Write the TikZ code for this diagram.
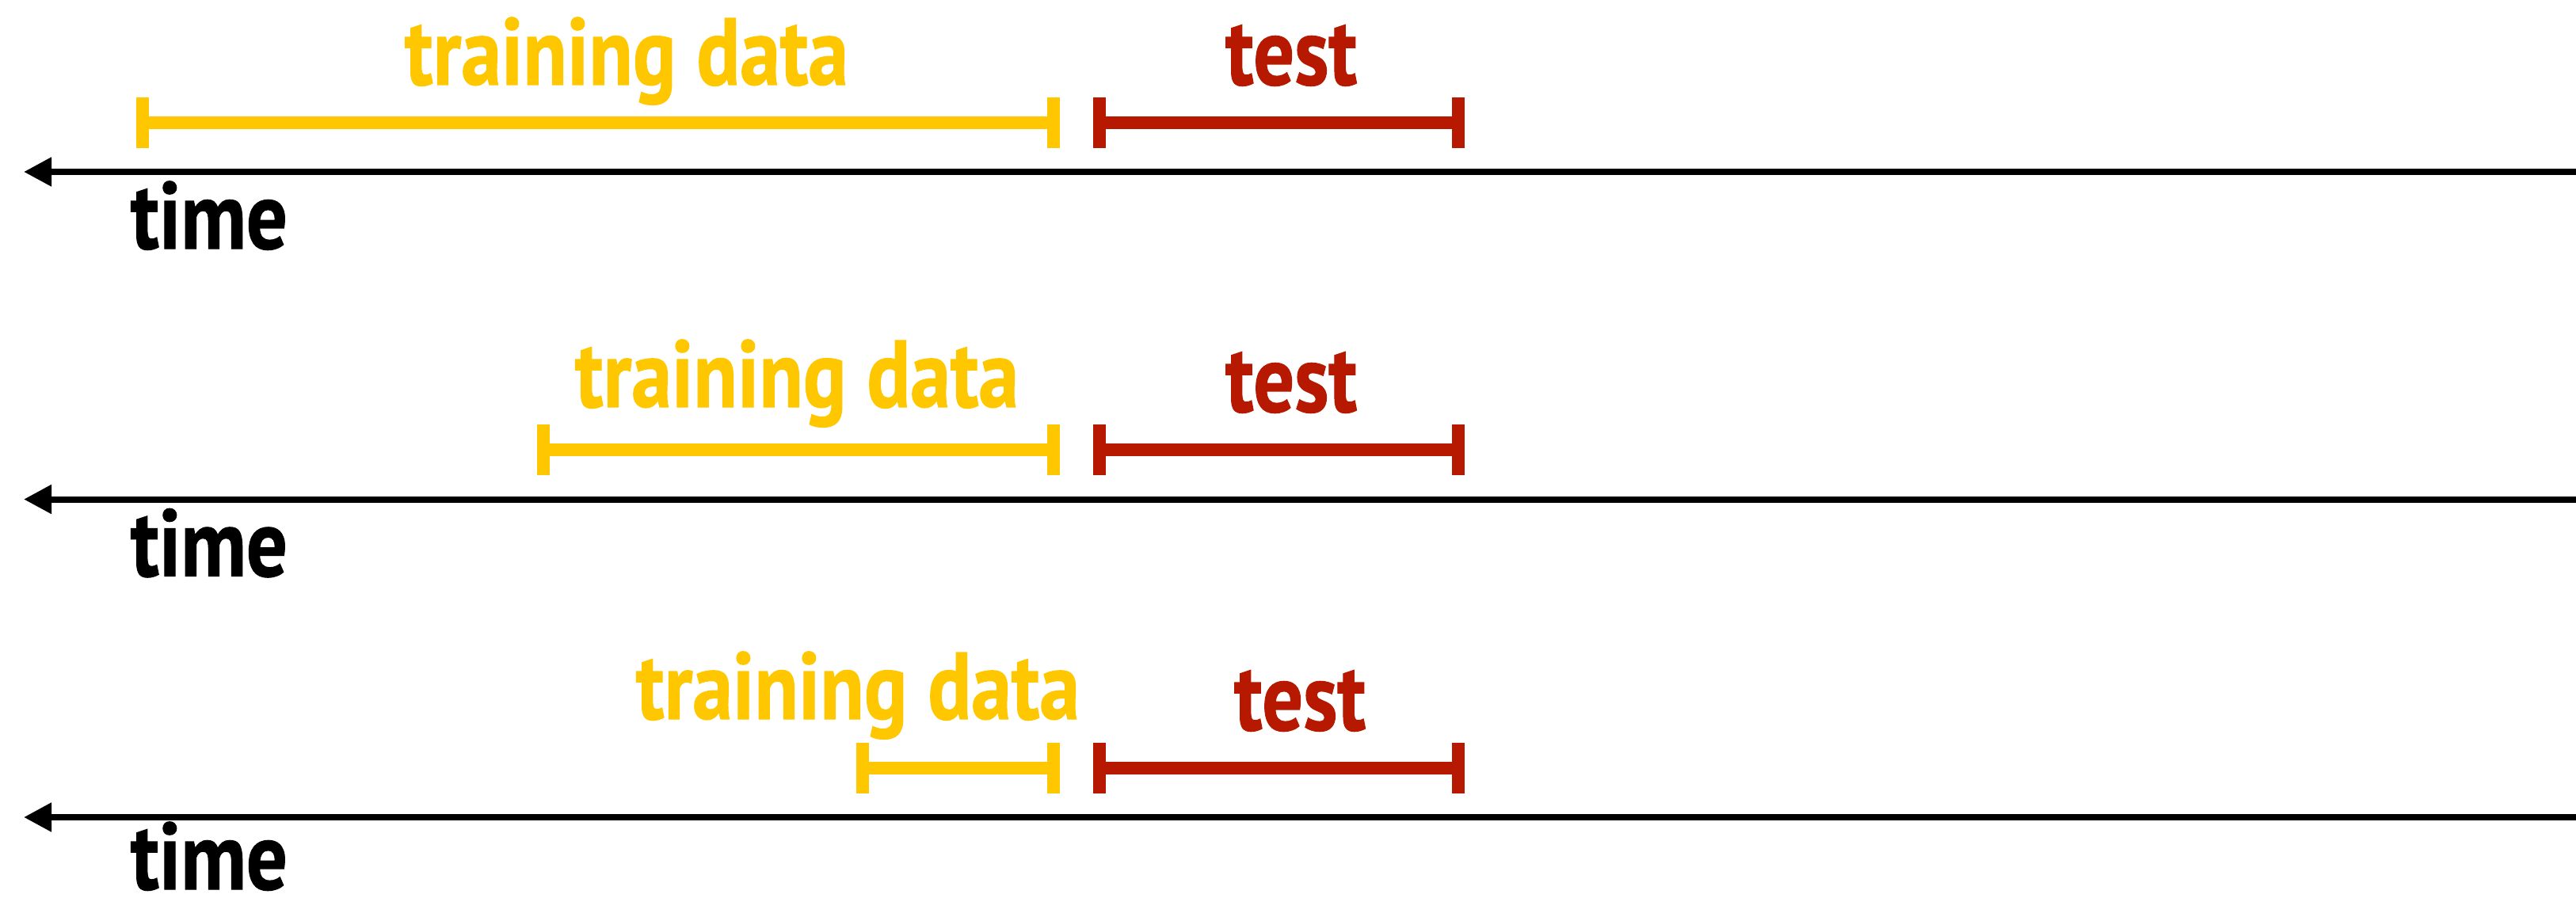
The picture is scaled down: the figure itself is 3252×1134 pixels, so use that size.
\documentclass[tikz,border=0pt]{standalone}
\usepackage{fontspec}
\usepackage{graphicx}
\setmainfont{PT Sans}[BoldFeatures={FakeBold=1}]
\usetikzlibrary{arrows.meta}
\definecolor{trainyellow}{RGB}{255,199,0}
\definecolor{testred}{RGB}{182,24,0}
% bold condensed label: set at a fixed size, then squeezed to the given width
\newcommand{\fitlabel}[2]{\resizebox{#1}{\height}{\fontsize{120pt}{130pt}\selectfont\bfseries #2}}

\begin{document}
\begin{tikzpicture}[x=1pt,y=-1pt,
  span/.style={line width=16pt},
  endtick/.style={line width=16pt},
  timeline/.style={line width=8pt,-{Triangle[length=35pt,width=35pt]}},
  lbl/.style={anchor=base,inner sep=0pt,outer sep=0pt}]
\useasboundingbox (0,0) rectangle (3252,1134);

% row / bar y / axis y / training start / training label x,base / test label x,base / time base
\foreach \r/\yb/\ya/\tl/\tc/\tb/\ec/\eb/\mb in {
  1/155/217/180/791/107/1630/107/314,
  2/568/630.5/686/1006/514/1630/520/727.5,
  3/970/1032/1088.5/1083/908/1641/922/1123}{
  % interval end points
  \coordinate (tl\r) at (\tl,\yb);
  \coordinate (tr\r) at (1330,\yb);
  \coordinate (el\r) at (1388,\yb);
  \coordinate (er\r) at (1841,\yb);
  % time axis ends
  \coordinate (as\r) at (3252,\ya);
  \coordinate (ae\r) at (30,\ya);

  % training interval
  \draw[span,trainyellow] (tl\r) -- (tr\r);
  \draw[endtick,trainyellow] ([yshift=32pt]tl\r) -- ([yshift=-32pt]tl\r);
  \draw[endtick,trainyellow] ([yshift=32pt]tr\r) -- ([yshift=-32pt]tr\r);
  % test interval
  \draw[span,testred] (el\r) -- (er\r);
  \draw[endtick,testred] ([yshift=32pt]el\r) -- ([yshift=-32pt]el\r);
  \draw[endtick,testred] ([yshift=32pt]er\r) -- ([yshift=-32pt]er\r);
  % time axis, pointing into the past
  \draw[timeline] (as\r) -- (ae\r);

  \node[lbl,text=trainyellow] (train\r) at (\tc,\tb) {\fitlabel{560pt}{training data}};
  \node[lbl,text=testred] (test\r) at (\ec,\eb) {\fitlabel{166pt}{test}};
  \node[lbl] (time\r) at (264,\mb) {\fitlabel{198pt}{time}};
}
\end{tikzpicture}
\end{document}
